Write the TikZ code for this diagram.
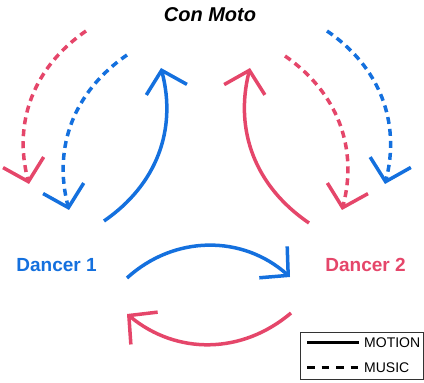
\documentclass[tikz,border=0pt]{standalone}
\usepackage{fontspec}
\setmainfont{Liberation Sans}
\usetikzlibrary{arrows.meta}
\definecolor{dblue}{RGB}{20,112,222}
\definecolor{dred}{RGB}{229,70,106}
\tikzset{
  motion/.style={line width=3.5pt,-{Straight Barb[length=20pt,width=42pt,line width=3.5pt]}},
  music/.style={motion,dash pattern=on 7pt off 5pt},
  lbl/.style={font=\bfseries\fontsize{19}{22}\selectfont,inner sep=0pt},
  legtxt/.style={font=\fontsize{14}{16}\selectfont,inner sep=0pt,anchor=west},
}
\begin{document}
\begin{tikzpicture}[x=1pt,y=1pt]
\useasboundingbox (0,0) rectangle (424,383);
% title and dancers
\node[font=\bfseries\itshape\fontsize{20}{22}\selectfont,inner sep=0pt] (title) at (210,368.5) {Con Moto};
\node[lbl,text=dblue] (d1) at (56.5,118) {Dancer 1};
\node[lbl,text=dred] (d2) at (365.5,118) {Dancer 2};
% coordinates
\coordinate (bsl1) at (104,162); \coordinate (bsl2) at (161,315);
\coordinate (rdl1) at (86,352);  \coordinate (rdl2) at (29,199);
\coordinate (bdl1) at (127,328); \coordinate (bdl2) at (69,173);
\coordinate (rsr1) at (309,160); \coordinate (rsr2) at (250,315);
\coordinate (rdr1) at (285,327); \coordinate (rdr2) at (342,173);
\coordinate (bdr1) at (327,352); \coordinate (bdr2) at (385,199);
\coordinate (bb1) at (127,105);  \coordinate (bb2) at (290,106);
\coordinate (rb1) at (291,70);   \coordinate (rb2) at (127,69);
% left side
\draw[motion,dblue] (bsl1) to[bend right=35] (bsl2);
\draw[music,dred] (rdl1) to[bend right=35] (rdl2);
\draw[music,dblue] (bdl1) to[bend right=35] (bdl2);
% right side
\draw[motion,dred] (rsr1) to[bend left=35] (rsr2);
\draw[music,dred] (rdr1) to[bend left=35] (rdr2);
\draw[music,dblue] (bdr1) to[bend left=35] (bdr2);
% bottom
\draw[motion,dblue] (bb1) to[bend left=42] (bb2);
\draw[motion,dred] (rb1) to[bend left=40] (rb2);
% legend
\draw[line width=0.6pt,black!80] (300,4) rectangle (423.4,51);
\coordinate (lm1) at (307,40); \coordinate (lm2) at (359,40);
\coordinate (lu1) at (307,15); \coordinate (lu2) at (358,15);
\draw[line width=3pt] (lm1) -- (lm2);
\draw[line width=3pt,dash pattern=on 7.5pt off 7pt] (lu1) -- (lu2);
\node[legtxt] (mo) at (364,40) {MOTION};
\node[legtxt] (mu) at (364,15) {MUSIC};
\end{tikzpicture}
\end{document}
